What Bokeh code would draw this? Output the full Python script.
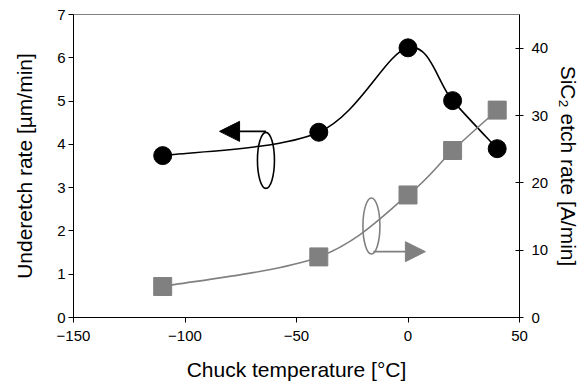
import numpy as np
from bokeh.plotting import figure
from bokeh.models import (Range1d, LinearAxis, FixedTicker, Arrow, NormalHead,
                          ColumnDataSource)
from bokeh.embed import file_html
from bokeh.resources import INLINE

# ---- data ----
temp = [-110, -40, 0, 20, 40]
underetch = [3.74, 4.28, 6.23, 5.01, 3.90]          # µm/min (left axis)
sic2_etch = [4.6, 9.0, 18.2, 24.8, 30.8]            # A/min (right axis)

x_ticks = [-150, -100, -50, 0, 50]
y_left_ticks = [0, 1, 2, 3, 4, 5, 6, 7]
y_right_ticks = [0, 10, 20, 30, 40]

FONT = "Liberation Sans"
GRAY = "#808080"


def smooth_segments(xs, ys):
    """Excel-like smoothed line: Catmull-Rom -> cubic Bezier control points."""
    xs = np.asarray(xs, float)
    ys = np.asarray(ys, float)
    n = len(xs)
    x0, y0, x1, y1 = [], [], [], []
    cx0, cy0, cx1, cy1 = [], [], [], []
    for i in range(n - 1):
        p0 = np.array([xs[max(i - 1, 0)], ys[max(i - 1, 0)]])
        p1 = np.array([xs[i], ys[i]])
        p2 = np.array([xs[i + 1], ys[i + 1]])
        p3 = np.array([xs[min(i + 2, n - 1)], ys[min(i + 2, n - 1)]])
        c1 = p1 + (p2 - p0) / 6.0
        c2 = p2 - (p3 - p1) / 6.0
        x0.append(p1[0]); y0.append(p1[1]); x1.append(p2[0]); y1.append(p2[1])
        cx0.append(c1[0]); cy0.append(c1[1]); cx1.append(c2[0]); cy1.append(c2[1])
    return dict(x0=x0, y0=y0, x1=x1, y1=y1, cx0=cx0, cy0=cy0, cx1=cx1, cy1=cy1)


p = figure(width=584, height=389, x_range=Range1d(-150, 50), y_range=Range1d(0, 7),
           output_backend="svg", toolbar_location=None,
           min_border_left=73, min_border_right=65, min_border_top=14, min_border_bottom=72)
p.extra_y_ranges = {"right": Range1d(0, 45)}

p.xgrid.visible = False
p.ygrid.visible = False
p.outline_line_color = GRAY
p.outline_line_width = 1
p.background_fill_color = "white"
p.border_fill_color = "white"


def style_axis(ax, tick_in, tick_out, label_standoff, axis_label_standoff):
    ax.axis_line_color = "black"
    ax.axis_line_width = 1
    ax.major_tick_line_color = "black"
    ax.minor_tick_line_color = None
    ax.major_tick_in = tick_in
    ax.major_tick_out = tick_out
    ax.major_label_text_font = FONT
    ax.major_label_text_font_size = "15px"
    ax.major_label_text_color = "black"
    ax.major_label_standoff = label_standoff
    ax.axis_label_text_font = FONT
    ax.axis_label_text_font_size = "21px"
    ax.axis_label_text_font_style = "normal"
    ax.axis_label_text_color = "black"
    ax.axis_label_standoff = axis_label_standoff


p.xaxis.ticker = FixedTicker(ticks=x_ticks)
p.xaxis.axis_label = "Chuck temperature [°C]"
style_axis(p.xaxis[0], 0, 5, 8, 14)

p.yaxis.ticker = FixedTicker(ticks=y_left_ticks)
p.yaxis.axis_label = "Underetch rate [µm/min]"
style_axis(p.yaxis[0], 0, 5, 3, 18)

ry = LinearAxis(y_range_name="right", ticker=FixedTicker(ticks=y_right_ticks),
                axis_label="SiC₂ etch rate [A/min]")
style_axis(ry, 4, 4, 8, 6)
p.add_layout(ry, "right")

# smoothed lines
s1 = ColumnDataSource(smooth_segments(temp, underetch))
p.bezier(x0="x0", y0="y0", x1="x1", y1="y1", cx0="cx0", cy0="cy0", cx1="cx1", cy1="cy1",
         source=s1, line_color="black", line_width=1.6)
s2 = ColumnDataSource(smooth_segments(temp, sic2_etch))
p.bezier(x0="x0", y0="y0", x1="x1", y1="y1", cx0="cx0", cy0="cy0", cx1="cx1", cy1="cy1",
         source=s2, line_color=GRAY, line_width=1.6, y_range_name="right")

# markers
p.scatter(temp, sic2_etch, marker="square", size=18, fill_color=GRAY, line_color=GRAY,
          y_range_name="right")
p.scatter(temp, underetch, marker="circle", size=18, fill_color="black", line_color="black")

# annotations: ellipses with arrows pointing to axes
ell1 = dict(x=-63.7, y=3.63)
ell2 = dict(x=-16.4, y=13.6)
p.ellipse(x=[ell1["x"]], y=[ell1["y"]], width=17, height=56, width_units="screen",
          height_units="screen", fill_color=None, line_color="black", line_width=1.6)
p.ellipse(x=[ell2["x"]], y=[ell2["y"]], width=17, height=56, width_units="screen",
          height_units="screen", fill_color=None, line_color=GRAY, line_width=1.6,
          y_range_name="right")

p.add_layout(Arrow(x_start=ell1["x"], y_start=4.30, x_end=-84.5, y_end=4.30,
                   end=NormalHead(size=20, fill_color="black", line_color="black"),
                   line_color="black", line_width=1.6))
p.add_layout(Arrow(x_start=-15.5, y_start=9.78, x_end=7.8, y_end=9.78,
                   end=NormalHead(size=20, fill_color=GRAY, line_color=GRAY),
                   line_color=GRAY, line_width=1.6, y_range_name="right"))

open("out.html", "w").write(file_html(p, INLINE))
